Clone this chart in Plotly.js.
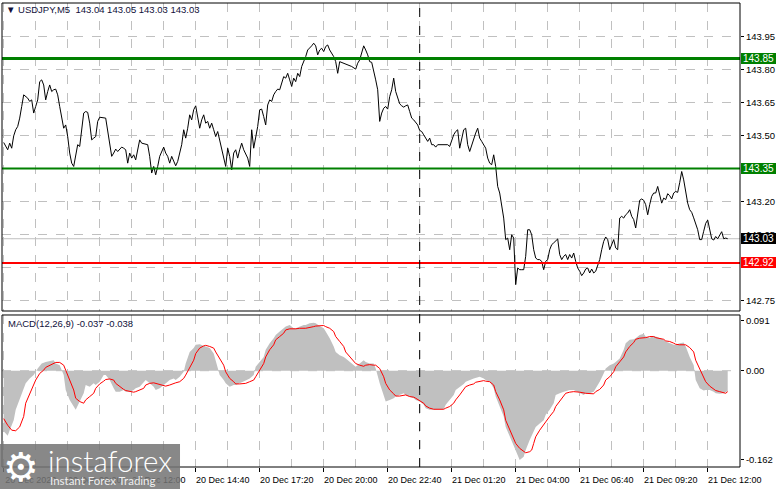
<!DOCTYPE html>
<html><head><meta charset="utf-8">
<script src="https://cdn.plot.ly/plotly-3.0.1.min.js"></script>
<style>html,body{margin:0;padding:0;background:#fff}#c{width:781px;height:489px}</style>
</head><body><div id="c"></div>
<script>
// ---- data (bar index = 5-minute bars since 20 Dec 06:40) ----
const priceBar = [0,2,3,4,5,6,7,8,9,10,12,13,14,15,16,17,18,19,20,21,22,23,24,25,26,27,28,29,30,31,32,33,34,35,36,37,38,39,40,41,42,43,44,45,46,47,48,51,52,53,54,55,56,57,59,60,61,62,63,64,65,66,67,68,69,72,73,74,75,76,77,78,80,81,82,83,84,85,86,87,88,89,90,91,92,93,94,95,96,97,98,99,100,101,102,103,104,105,106,107,108,109,110,111,112,113,114,115,116,117,118,119,120,121,122,123,124,125,126,127,128,129,130,131,132,133,134,135,136,137,138,139,140,141,142,143,144,145,146,147,148,149,150,151,152,153,154,155,156,157,158,159,160,161,162,163,164,165,166,167,168,170,172,174,176,177,178,180,181,182,183,184,186,187,188,189,190,191,192,193,194,195,196,197,198,199,200,201,202,203,204,205,206,207,208,209,210,211,212,213,214,215,216,217,220,222,223,224,225,226,227,228,229,230,231,232,233,234,235,236,237,238,239,240,241,242,243,244,245,246,247,248,249,250,251,252,253,254,255,256,257,258,259,260,261,262,263,264,265,266,267,268,269,270,271,272,273,274,275,276,277,278,279,280,281,282,283,284,285,286,287,288,289,290,291,292,293,294,295,296,297,298,299,300,301,302,303,304,305,306,307,308,309,310,311,312,313,314,315,316,317,318,319,320,321,322,323,324,325,326,327,328,329,330,331,332,333,334,335,336,337,338,339,340,341,342,343,344,345,346,347,348,349,350,351,352,353,354,355,356,357,358,359,360,361,362];
const priceVal = [143.468,143.435,143.465,143.442,143.498,143.526,143.541,143.579,143.632,143.685,143.670,143.655,143.662,143.602,143.632,143.662,143.745,143.753,143.730,143.662,143.700,143.730,143.700,143.708,143.711,143.685,143.632,143.571,143.533,143.548,143.495,143.420,143.374,143.359,143.412,143.458,143.450,143.541,143.602,143.609,143.605,143.556,143.480,143.488,143.495,143.564,143.583,143.579,143.526,143.473,143.405,143.420,143.438,143.427,143.447,143.442,143.435,143.374,143.420,143.397,143.412,143.389,143.442,143.480,143.465,143.458,143.405,143.329,143.359,143.321,143.359,143.405,143.447,143.420,143.405,143.374,143.405,143.382,143.362,143.382,143.420,143.458,143.526,143.488,143.533,143.594,143.571,143.617,143.635,143.586,143.533,143.571,143.594,143.556,143.564,143.533,143.556,143.526,143.495,143.518,143.480,143.435,143.397,143.359,143.442,143.405,143.344,143.420,143.435,143.397,143.435,143.465,143.435,143.412,143.397,143.359,143.526,143.442,143.495,143.541,143.617,143.620,143.586,143.548,143.639,143.662,143.655,143.685,143.700,143.711,143.708,143.738,143.768,143.761,143.783,143.753,143.723,143.761,143.745,143.783,143.768,143.814,143.836,143.859,143.889,143.897,143.908,143.920,143.908,143.867,143.889,143.897,143.882,143.905,143.912,143.889,143.874,143.859,143.836,143.783,143.836,143.829,143.821,143.814,143.802,143.829,143.844,143.908,143.889,143.867,143.836,143.833,143.753,143.708,143.564,143.602,143.624,143.632,143.620,143.677,143.708,143.761,143.700,143.670,143.644,143.635,143.629,143.635,143.639,143.609,143.579,143.571,143.559,143.548,143.523,143.518,143.503,143.488,143.473,143.488,143.458,143.458,143.447,143.458,143.458,143.458,143.450,143.480,143.503,143.518,143.526,143.442,143.480,143.526,143.533,143.458,143.427,143.458,143.488,143.511,143.533,143.488,143.473,143.458,143.442,143.397,143.374,143.367,143.412,143.359,143.268,143.238,143.177,143.124,143.026,143.033,142.980,143.048,143.033,142.821,142.897,142.889,142.889,142.889,142.950,143.071,143.071,143.048,142.980,142.942,142.935,142.935,142.927,142.889,142.927,142.935,142.980,143.003,143.011,143.018,143.029,142.958,142.935,142.950,142.958,142.935,142.958,142.942,142.965,142.927,142.897,142.882,142.862,142.874,142.892,142.897,142.874,142.892,142.874,142.882,142.912,142.935,142.980,143.018,143.038,143.026,142.980,143.003,143.026,142.988,142.980,143.124,143.132,143.124,143.139,143.147,143.162,143.132,143.117,143.079,143.139,143.205,143.211,143.205,143.185,143.139,143.185,143.223,143.238,143.238,143.268,143.230,143.192,143.215,143.208,143.235,143.226,143.211,143.238,143.245,143.241,143.285,143.336,143.298,143.238,143.192,143.162,143.150,143.125,143.102,143.071,143.026,143.026,143.064,143.100,143.115,143.075,143.030,143.024,143.040,143.030,143.045,143.062,143.030,143.033,143.030];

const macdBar = [0,2,3,5,6,8,10,11,13,15,16,17,19,21,25,26,28,29,30,31,33,35,36,38,40,41,43,45,46,48,50,51,53,55,56,58,60,61,63,65,66,68,70,71,73,75,76,78,80,81,83,85,86,88,90,91,93,95,96,98,100,101,103,105,106,107,108,110,111,113,115,116,118,120,121,123,125,126,128,130,131,133,135,136,138,140,141,143,145,146,148,150,151,153,155,156,158,160,161,163,165,166,168,170,171,173,175,176,178,180,181,183,185,186,188,190,191,193,195,196,198,200,201,203,205,206,208,210,211,213,216,220,221,223,225,226,228,230,231,233,235,238,240,241,243,245,246,248,250,251,253,255,256,258,260,261,263,265,266,268,270,271,273,275,276,278,280,283,285,286,288,290,291,293,295,296,298,300,301,303,305,306,308,310,311,313,315,316,318,320,321,323,325,326,328,330,331,333,335,336,338,340,341,343,345,346,348,350,351,353,355,356,358,360,362];
const macdVal = [-0.110,-0.118,-0.108,-0.090,-0.071,-0.053,-0.035,-0.023,-0.014,-0.008,-0.002,0.004,0.013,0.016,0.019,0.013,0.010,0.001,-0.008,-0.035,-0.053,-0.065,-0.071,-0.056,-0.041,-0.026,-0.029,-0.023,-0.026,-0.020,-0.008,-0.008,-0.017,-0.032,-0.038,-0.038,-0.035,-0.038,-0.038,-0.035,-0.032,-0.029,-0.020,-0.017,-0.023,-0.029,-0.035,-0.032,-0.026,-0.023,-0.017,-0.014,-0.017,-0.011,-0.002,0.013,0.034,0.041,0.047,0.048,0.045,0.044,0.041,0.031,0.019,0.007,-0.008,-0.017,-0.023,-0.029,-0.026,-0.026,-0.023,-0.020,-0.018,-0.014,-0.008,0.007,0.016,0.025,0.038,0.050,0.059,0.065,0.071,0.077,0.080,0.083,0.077,0.077,0.080,0.083,0.083,0.086,0.087,0.086,0.081,0.077,0.071,0.059,0.044,0.034,0.028,0.025,0.022,0.016,0.010,0.007,0.013,0.019,0.016,0.013,0.013,0.004,-0.023,-0.047,-0.056,-0.053,-0.050,-0.047,-0.044,-0.041,-0.044,-0.047,-0.050,-0.053,-0.056,-0.062,-0.068,-0.071,-0.071,-0.070,-0.062,-0.053,-0.044,-0.035,-0.030,-0.024,-0.020,-0.017,-0.014,-0.011,-0.014,-0.017,-0.020,-0.032,-0.047,-0.065,-0.083,-0.102,-0.120,-0.138,-0.144,-0.162,-0.156,-0.144,-0.126,-0.108,-0.102,-0.096,-0.090,-0.080,-0.071,-0.059,-0.044,-0.041,-0.038,-0.035,-0.035,-0.037,-0.041,-0.044,-0.041,-0.041,-0.038,-0.032,-0.020,-0.005,0.004,0.010,0.013,0.016,0.022,0.038,0.050,0.056,0.057,0.059,0.065,0.067,0.062,0.060,0.063,0.062,0.059,0.056,0.053,0.050,0.047,0.047,0.050,0.051,0.044,0.025,0.010,-0.017,-0.032,-0.036,-0.035,-0.035,-0.038,-0.041,-0.042,-0.041,-0.037];

const signalBar = [0,2,4,6,8,10,11,13,15,16,18,20,21,23,25,26,28,30,31,33,35,36,38,40,41,43,45,46,48,50,51,53,55,56,58,60,61,63,65,66,68,70,71,73,75,76,78,80,81,83,85,86,88,90,91,93,95,96,98,100,101,103,105,106,108,110,111,113,115,116,118,120,121,123,125,126,128,130,131,133,135,136,138,140,141,143,146,148,151,153,155,156,158,160,161,163,165,166,168,170,171,173,175,176,178,180,181,183,185,186,188,190,191,193,195,196,198,200,201,203,205,206,208,210,211,213,215,217,220,221,223,225,226,228,230,231,233,235,236,238,240,241,243,245,246,248,250,251,253,255,256,258,260,261,263,264,265,266,268,270,271,273,275,276,278,280,281,283,285,288,291,295,296,298,300,301,303,305,306,308,310,311,313,315,316,318,320,321,323,325,326,328,330,331,333,335,336,338,341,343,345,346,348,350,351,353,355,356,358,360,361,362];
const signalVal = [-0.087,-0.099,-0.108,-0.109,-0.102,-0.083,-0.059,-0.041,-0.026,-0.017,-0.005,0.001,0.006,0.010,0.013,0.015,0.015,0.010,0.001,-0.017,-0.035,-0.050,-0.056,-0.059,-0.053,-0.047,-0.041,-0.032,-0.024,-0.019,-0.016,-0.015,-0.017,-0.023,-0.029,-0.034,-0.036,-0.038,-0.039,-0.038,-0.035,-0.032,-0.026,-0.023,-0.022,-0.023,-0.024,-0.026,-0.028,-0.026,-0.023,-0.022,-0.020,-0.014,-0.008,0.007,0.019,0.031,0.041,0.045,0.046,0.044,0.041,0.034,0.022,0.010,-0.002,-0.014,-0.020,-0.024,-0.024,-0.024,-0.023,-0.020,-0.017,-0.011,0.001,0.013,0.025,0.038,0.047,0.056,0.062,0.068,0.074,0.076,0.076,0.077,0.077,0.078,0.080,0.081,0.082,0.082,0.080,0.077,0.071,0.062,0.053,0.044,0.034,0.025,0.018,0.013,0.010,0.008,0.010,0.011,0.010,0.010,0.004,-0.011,-0.023,-0.035,-0.042,-0.046,-0.046,-0.044,-0.044,-0.047,-0.048,-0.050,-0.054,-0.059,-0.064,-0.068,-0.070,-0.070,-0.070,-0.068,-0.065,-0.059,-0.053,-0.044,-0.035,-0.029,-0.026,-0.024,-0.021,-0.019,-0.018,-0.019,-0.020,-0.026,-0.038,-0.053,-0.071,-0.090,-0.108,-0.123,-0.132,-0.141,-0.147,-0.149,-0.147,-0.144,-0.132,-0.120,-0.108,-0.099,-0.093,-0.083,-0.074,-0.065,-0.056,-0.047,-0.041,-0.039,-0.038,-0.039,-0.041,-0.042,-0.038,-0.034,-0.026,-0.017,-0.011,-0.002,0.007,0.016,0.025,0.034,0.044,0.051,0.057,0.059,0.059,0.060,0.062,0.062,0.060,0.059,0.057,0.054,0.053,0.050,0.048,0.047,0.047,0.042,0.034,0.019,0.004,-0.011,-0.020,-0.028,-0.034,-0.036,-0.038,-0.040,-0.041,-0.038];

const xTickBars = [0,32,64,96,128,160,192,224,256,288,320,352];
const xTickText = ['20 Dec 2023','20 Dec 09:20','20 Dec 12:00','20 Dec 14:40','20 Dec 17:20','20 Dec 20:00','20 Dec 22:40','21 Dec 01:20','21 Dec 04:00','21 Dec 06:40','21 Dec 09:20','21 Dec 12:00'];
const priceTicks = [142.75,142.90,143.05,143.20,143.35,143.50,143.65,143.80,143.95];
const macdTicks = [0.091,0,-0.162];
const macdTickText = ['0.091','0.00','-0.162'];
const levelVals = [143.85,143.35,142.92,143.03];
const levelColors = ['#008000','#008000','#ff0000','#c0c0c0'];
const levelWidths = [3,2,2,1];
const levelLabelBg = ['#008000','#008000','#ff0000','#000000'];
const separatorBar = 208; // 21 Dec 00:00
const titleText = '\u25BC USDJPY,M5\u00a0\u00a0143.04 143.05 143.03 143.03';
const macdText = 'MACD(12,26,9) -0.037 -0.038';

// ---- chart ----
const F = 'Liberation Sans, Arial, sans-serif';
const minorBars = xTickBars.map(b => b + 16);
// price tick labels that sit fully under a level label box are hidden by that box
const hiddenTicks = [143.35, 142.90];
const priceTickText = priceTicks.map(v => hiddenTicks.includes(v) ? '' : v.toFixed(2));

const traces = [
  {x: macdBar, y: macdVal, xaxis: 'x', yaxis: 'y2', type: 'scatter', mode: 'lines',
   fill: 'tozeroy', fillcolor: '#c0c0c0', line: {width: 0, color: '#c0c0c0'}, hoverinfo: 'skip'},
  {x: signalBar, y: signalVal, xaxis: 'x', yaxis: 'y2', type: 'scatter', mode: 'lines',
   line: {width: 1, color: '#ff0000'}, hoverinfo: 'skip'},
  {x: priceBar, y: priceVal, xaxis: 'x', yaxis: 'y', type: 'scatter', mode: 'lines',
   line: {width: 1, color: '#000000'}, hoverinfo: 'skip'}
];

const shapes = [];
levelVals.forEach((v, i) => shapes.push({type: 'line', xref: 'paper', x0: 0, x1: 1, yref: 'y', y0: v, y1: v,
  line: {color: levelColors[i], width: levelWidths[i]}, layer: i === 3 ? 'between' : 'above'}));
shapes.push({type: 'line', xref: 'paper', x0: 0, x1: 1, yref: 'y2', y0: 0, y1: 0,
  line: {color: '#c0c0c0', width: 1, dash: 'dash'}, layer: 'between'});
shapes.push({type: 'line', xref: 'x', x0: separatorBar, x1: separatorBar, yref: 'paper', y0: 0, y1: 1,
  line: {color: '#000000', width: 1, dash: 'dash'}, layer: 'above'});
shapes.push({type: 'rect', xref: 'paper', x0: 0, x1: 1, yref: 'y domain', y0: 0, y1: 1,
  line: {color: '#000', width: 1}, layer: 'above'});
shapes.push({type: 'rect', xref: 'paper', x0: 0, x1: 1, yref: 'y2 domain', y0: 0, y1: 1,
  line: {color: '#000', width: 1}, layer: 'above'});
// logo panel
shapes.push({type: 'rect', xref: 'paper', yref: 'paper', x0: -0.004, x1: 0.2412, y0: 0.0496, y1: -0.06,
  fillcolor: 'rgba(117,117,117,0.86)', line: {width: 0}, layer: 'above'});

const annotations = [];
levelVals.forEach((v, i) => annotations.push({xref: 'paper', x: 1, xanchor: 'left', xshift: 1,
  yref: 'y', y: v, yanchor: 'middle', text: v.toFixed(2), showarrow: false, width: 35, height: 11, align: 'center',
  bgcolor: levelLabelBg[i], font: {family: F, size: 10, color: '#ffffff'}, borderpad: 0, borderwidth: 0}));
annotations.push({xref: 'paper', yref: 'paper', x: 0, y: 1, xanchor: 'left', yanchor: 'top', xshift: 2, yshift: 1,
  text: titleText, showarrow: false, font: {family: F, size: 9.5, color: '#10103a'}});
annotations.push({xref: 'paper', yref: 'y2 domain', x: 0, y: 1, xanchor: 'left', yanchor: 'top', xshift: 4, yshift: -1,
  text: macdText, showarrow: false, font: {family: F, size: 9.5, color: '#10103a'}});
// logo texts
annotations.push({xref: 'paper', yref: 'paper', x: 0.026, y: 0.0, xanchor: 'center', yanchor: 'middle',
  text: '\u2699', showarrow: false, font: {family: 'DejaVu Sans', size: 40, color: '#ffffff'}});
annotations.push({xref: 'paper', yref: 'paper', x: 0.060, y: 0.0135, xanchor: 'left', yanchor: 'middle',
  text: 'instaforex', showarrow: false, font: {family: 'Lato', size: 29.5, color: '#ffffff', weight: 300}});
annotations.push({xref: 'paper', yref: 'paper', x: 0.062, y: -0.03, xanchor: 'left', yanchor: 'middle',
  text: 'Instant Forex Trading', showarrow: false, font: {family: 'Lato', size: 11.5, color: '#eeeeee'}});

const layout = {
  width: 781, height: 489,
  margin: {l: 2, r: 41, t: 3, b: 22, pad: 0},
  paper_bgcolor: '#ffffff', plot_bgcolor: '#ffffff',
  showlegend: false, hovermode: false,
  xaxis: {domain: [0, 1], anchor: 'y2', range: [-0.85, 368.15],
    tickmode: 'array', tickvals: xTickBars, ticktext: xTickText,
    ticks: 'outside', ticklen: 4, tickcolor: '#000', ticklabelshift: 27,
    tickfont: {family: F, size: 9, color: '#000'},
    showgrid: true, gridcolor: '#c0c0c0', griddash: 'dash', gridwidth: 1,
    minor: {tickvals: minorBars, showgrid: true, gridcolor: '#c0c0c0', griddash: 'dash', ticks: ''},
    zeroline: false, showline: false},
  yaxis: {domain: [0.3362, 1], range: [142.701, 144.103], side: 'right', anchor: 'x',
    tickmode: 'array', tickvals: priceTicks, ticktext: priceTickText,
    ticks: 'outside', ticklen: 3, tickcolor: '#000',
    tickfont: {family: F, size: 9.5, color: '#000'},
    showgrid: true, gridcolor: '#c0c0c0', griddash: 'dash', zeroline: false, showline: false},
  yaxis2: {domain: [0, 0.3276], range: [-0.1748, 0.1011], side: 'right', anchor: 'x',
    tickmode: 'array', tickvals: macdTicks, ticktext: macdTickText,
    ticks: 'outside', ticklen: 3, tickcolor: '#000',
    tickfont: {family: F, size: 9.5, color: '#000'},
    showgrid: false, zeroline: false, showline: false},
  shapes: shapes, annotations: annotations
};

Plotly.newPlot('c', traces, layout, {staticPlot: true, displayModeBar: false});
</script></body></html>
